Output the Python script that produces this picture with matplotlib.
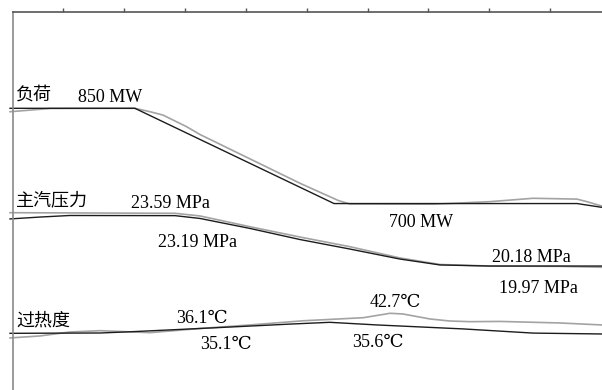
import matplotlib
matplotlib.use("Agg")
import matplotlib.pyplot as plt
import numpy as np

# time axis in tick units (one tick = one unit)
load_t_black = [0.13, 2.18, 5.45, 9.44, 9.85]
load_black = [850, 850, 700, 700, 694]
load_t_gray = [0.13, 0.62, 0.79, 2.18, 2.43, 2.64, 3.03, 3.25, 4.89, 5.52, 5.71, 7.08, 8.01, 8.72, 9.44, 9.60, 9.85]
load_gray = [844.6, 848.4, 849.7, 850, 844.6, 839.4, 821, 808.7, 732, 704.8, 699.3, 699, 703, 708.3, 707, 703, 696]

pres_t_gray = [0.13, 2.84, 3.25, 4.07, 4.89, 5.71, 6.53, 7.19, 8.01, 9.16, 9.85]
pres_gray = [23.61, 23.57, 23.40, 22.71, 22.05, 21.43, 20.71, 20.29, 20.19, 20.17, 20.11]
pres_t_black = [0.13, 0.62, 1.11, 2.84, 3.25, 4.07, 4.89, 5.71, 6.53, 7.19, 8.01, 9.85]
pres_black = [23.21, 23.33, 23.43, 23.42, 23.24, 22.60, 21.89, 21.28, 20.64, 20.26, 20.19, 20.19]

temp_t_gray = [0.13, 0.62, 1.11, 1.61, 2.43, 3.25, 4.07, 4.94, 5.93, 6.37, 6.58, 7.03, 7.35, 7.68, 8.18, 9.16, 9.85]
temp_gray = [31.5, 32.4, 34.2, 34.8, 33.9, 35.8, 37.4, 39.3, 40.7, 42.7, 42.4, 40.1, 39.2, 38.9, 39.0, 38.3, 37.4]
temp_t_black = [0.13, 1.61, 2.10, 3.25, 4.07, 4.73, 5.38, 6.16, 7.57, 8.72, 9.85]
temp_black = [33.6, 33.75, 34.3, 35.8, 36.9, 37.8, 38.6, 37.4, 35.6, 33.7, 33.3]


# each trace sits in its own band of the chart
def load_row(v):
    return 108.3 + (850 - np.array(v)) * 0.635

def pres_row(v):
    return 213 + (23.59 - np.array(v)) * 15.6

def temp_row(v):
    return 313.3 + (42.7 - np.array(v)) * 2.2


fig = plt.figure(figsize=(6.02, 3.90), dpi=100)
ax = fig.add_axes([12.7 / 602, 0, 1 - 12.7 / 602, 1 - 12.3 / 390])

gray = "#a3a3a3"
black = "#1c1c1c"
ax.plot(load_t_gray, load_row(load_gray), color=gray, lw=1.2, clip_on=False)
ax.plot(load_t_black, load_row(load_black), color=black, lw=1.0, clip_on=False)
ax.plot(pres_t_gray, pres_row(pres_gray), color=gray, lw=1.2, clip_on=False)
ax.plot(pres_t_black, pres_row(pres_black), color=black, lw=1.0, clip_on=False)
ax.plot(temp_t_gray, temp_row(temp_gray), color=gray, lw=1.2, clip_on=False)
ax.plot(temp_t_black, temp_row(temp_black), color=black, lw=1.0, clip_on=False)

ax.set_xlim(0.174, 9.85)
ax.set_ylim(390, 12.3)

for s in ["right", "bottom"]:
    ax.spines[s].set_visible(False)
ax.spines["top"].set_color("#555555")
ax.spines["top"].set_linewidth(1.2)
ax.spines["left"].set_color("#8a8a8a")
ax.spines["left"].set_linewidth(1.2)
ax.xaxis.tick_top()
ax.set_xticks(range(1, 10))
ax.tick_params(axis="x", direction="out", length=3, width=1, colors="#555555", labeltop=False)
ax.set_yticks([])

cjk = ["Noto Sans CJK SC", "DejaVu Sans"]
num = ["Liberation Serif", "DejaVu Serif", "Noto Sans CJK SC"]
fs = 13


def px(x):
    return (x - 2.1) / 60.9


ax.text(px(16), 100, "负荷", family=cjk, fontsize=fs, ha="left", va="baseline")
ax.text(px(16), 205, "主汽压力", family=cjk, fontsize=fs, ha="left", va="baseline")
ax.text(px(16), 325.5, "过热度", family=cjk, fontsize=fs, ha="left", va="baseline")

labels = [
    ("850 MW", 110, 102),
    ("23.59 MPa", 170, 208),
    ("23.19 MPa", 197.5, 246.7),
    ("700 MW", 421, 227.3),
    ("20.18 MPa", 531, 261.7),
    ("19.97 MPa", 538, 293.3),
    ("36.1℃", 202, 322.7),
    ("35.1℃", 226, 349.3),
    ("42.7℃", 395, 306.7),
    ("35.6℃", 377.5, 347),
]
for s, x, y in labels:
    ax.text(px(x), y, s, family=num, fontsize=fs, ha="center", va="baseline")

fig.savefig("out.png", dpi=100)
